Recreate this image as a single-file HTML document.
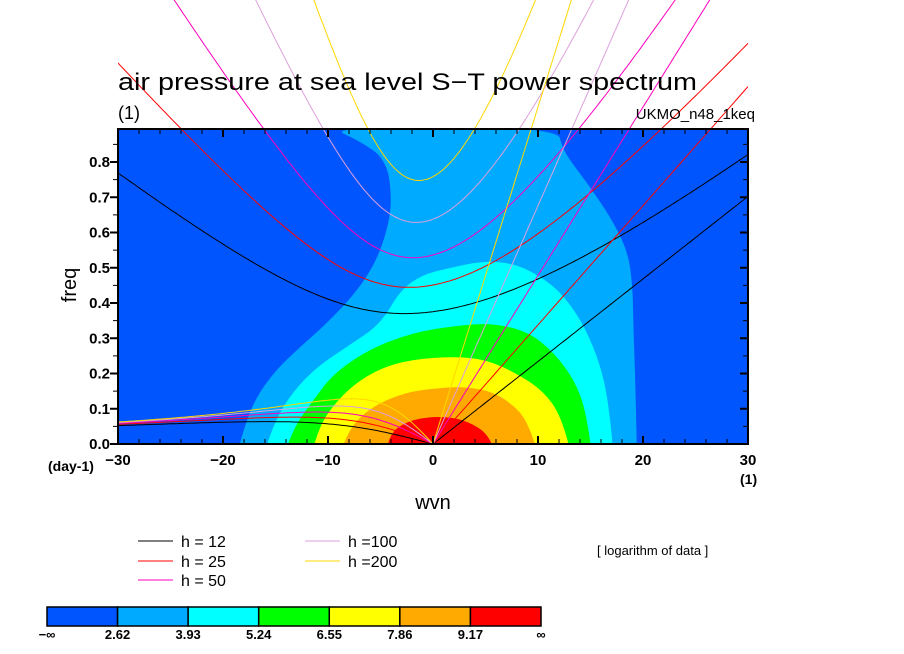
<!DOCTYPE html>
<html><head><meta charset="utf-8"><style>
html,body{margin:0;padding:0;background:#fff;}
svg{display:block;font-family:"Liberation Sans",sans-serif;}
</style></head><body>
<svg id="chart" width="904" height="654" viewBox="0 0 904 654">
<defs><clipPath id="pc"><rect x="118" y="0" width="630" height="444"/></clipPath>
<clipPath id="pa"><rect x="118" y="129" width="630" height="315"/></clipPath></defs>
<rect x="118" y="129" width="630" height="315" fill="#0055ff"/>
<g id="contours" clip-path="url(#pa)"></g>
<g id="curves" clip-path="url(#pc)"></g>
<g id="axes"></g>
<text x="118" y="90" font-size="24" textLength="579" lengthAdjust="spacingAndGlyphs">air pressure at sea level S−T power spectrum</text>
<text x="118" y="119" font-size="18">(1)</text>
<text x="755" y="119" font-size="15" text-anchor="end">UKMO_n48_1keq</text>
<text x="76" y="285" font-size="20" text-anchor="middle" transform="rotate(-90 76 285)">freq</text>
<text x="433" y="509" font-size="20" text-anchor="middle">wvn</text>
<text x="48" y="471" font-size="14" font-weight="bold">(day-1)</text>
<text x="740" y="484" font-size="14" font-weight="bold">(1)</text>
<text x="597" y="555" font-size="13">[ logarithm of data ]</text>
<g id="legend"></g>
<g id="colorbar"></g>
</svg>
<script>
const levels=["−∞","2.62","3.93","5.24","6.55","7.86","9.17","∞"];
const fillColors=["#0055ff","#00aaff","#00ffff","#00ff00","#ffff00","#ffaa00","#ff0000"];
const depths=[12,25,50,100,200];
const depthColors=["#000000","#ff0000","#ff00c0","#dda0dd","#ffd700"];
const xTicks=[-30,-20,-10,0,10,20,30];
const yTicks=[0,0.1,0.2,0.3,0.4,0.5,0.6,0.7,0.8];
const cLightBlue=[[-18.4,0],[-17.5,0.1],[-15.3,0.2],[-12.5,0.28],[-10.8,0.323],[-7.9,0.41],[-5.7,0.5],[-4.4,0.6],[-3.9,0.69],[-4.4,0.806],[-7,0.86],[-10,0.9],[11.9,0.9],[12.3,0.834],[14.7,0.74],[16.9,0.644],[18.5,0.55],[19,0.457],[19.1,0.32],[19.3,0.15],[19.4,0]];
const cCyan=[[-15.8,0],[-15,0.07],[-13.3,0.15],[-11,0.22],[-8,0.28],[-5,0.34],[-3.1,0.437],[-1,0.48],[1.6,0.5],[5,0.52],[8,0.51],[10.5,0.47],[12.5,0.42],[14.5,0.33],[16,0.22],[16.8,0.1],[17.1,0]];
const cGreen=[[-13.8,0],[-13.2,0.05],[-11.5,0.12],[-9.5,0.2],[-6,0.27],[-2,0.315],[2,0.335],[5.5,0.343],[9,0.32],[11.5,0.26],[13.5,0.18],[14.6,0.09],[15,0]];
const cYellow=[[-11.3,0],[-10.8,0.05],[-9.5,0.11],[-7.5,0.17],[-5,0.215],[-2,0.24],[2,0.248],[5,0.24],[8,0.2],[10.5,0.15],[12.2,0.08],[12.9,0]];
const cOrange=[[-8.5,0],[-8,0.04],[-6.5,0.09],[-4.5,0.125],[-2,0.15],[1,0.16],[3,0.162],[5.5,0.15],[7.5,0.115],[9,0.065],[9.7,0]];
const cRed=[[-4.3,0],[-4,0.03],[-3,0.055],[-1.5,0.072],[0.5,0.078],[2.5,0.072],[4.2,0.05],[5.2,0.025],[5.6,0]];
const contourSets=[cLightBlue,cCyan,cGreen,cYellow,cOrange,cRed];

const NS="http://www.w3.org/2000/svg";
const X=k=>433+10.5*k, Y=f=>444-352.5*f;
function mk(tag,attrs,parent){const e=document.createElementNS(NS,tag);for(const a in attrs)e.setAttribute(a,attrs[a]);parent.appendChild(e);return e;}

const cg=document.getElementById('contours');
contourSets.forEach((pts,i)=>{
  const P=pts.map(p=>[X(p[0]),Y(p[1])]);
  let d='M'+P[0][0].toFixed(1)+' '+(P[0][1]+2).toFixed(1)+' L'+P[0][0].toFixed(1)+' '+P[0][1].toFixed(1);
  for(let j=1;j<P.length-1;j++){
    const mx=(P[j][0]+P[j+1][0])/2,my=(P[j][1]+P[j+1][1])/2;
    d+=' Q'+P[j][0].toFixed(1)+' '+P[j][1].toFixed(1)+' '+(j===P.length-2?P[j+1][0]:mx).toFixed(1)+' '+(j===P.length-2?P[j+1][1]:my).toFixed(1);
  }
  d+=' L'+P[P.length-1][0].toFixed(1)+' '+(P[P.length-1][1]+2).toFixed(1)+' Z';
  const p=mk('path',{d:d,fill:fillColors[i+1]},cg);
  
  
});

const a=6.371e6,beta=2*7.292e-5/a;
function newton(k,w){for(let i=0;i<60;i++){const f=w*w*w-(k*k+3)*w-k,fp=3*w*w-(k*k+3);w-=f/fp;}return w;}
const gcv=document.getElementById('curves');
depths.forEach((h,i)=>{
  const c=Math.sqrt(9.81*h),L=Math.sqrt(c/beta),T=Math.sqrt(beta*c)*86400/(2*Math.PI);
  const kel=[],ig=[],ros=[];
  for(let s=-30;s<=30.001;s+=0.25){
    const k=s/a*L;
    ig.push([s,newton(k,Math.sqrt(k*k+3)+0.5)*T]);
    if(s<=0) ros.push([s,Math.max(0,newton(k,-k/(k*k+3)))*T]);
    if(s>=0) kel.push([s,k*T]);
  }
  [['kelvin',kel],['ig',ig],['rossby',ros]].forEach(([nm,arr])=>{
    const d=arr.map((p,j)=>(j?'L':'M')+X(p[0]).toFixed(1)+' '+Math.max(-50,Y(p[1])).toFixed(1)).join(' ');
    const p=mk('path',{d:d,fill:'none',stroke:depthColors[i],'stroke-width':1},gcv);
    
    
  });
});

const ax=document.getElementById('axes');
const fr=mk('rect',{x:118,y:129,width:630,height:315,fill:'none',stroke:'#000','stroke-width':2},ax);


for(let s=-30;s<=30;s+=2){const maj=s%10===0;const l=maj?8:5;
  mk('line',{x1:X(s),x2:X(s),y1:444,y2:444-l,stroke:'#000','stroke-width':maj?2:1},ax);
  mk('line',{x1:X(s),x2:X(s),y1:129,y2:129+l,stroke:'#000','stroke-width':maj?2:1},ax);}
for(let f=0;f<=0.89;f+=0.05){const maj=Math.round(f*20)%2===0;const l=maj?8:5;
  mk('line',{x1:118,x2:118-l,y1:Y(f),y2:Y(f),stroke:'#000','stroke-width':maj?2:1},ax);
  mk('line',{x1:748,x2:748-l,y1:Y(f),y2:Y(f),stroke:'#000','stroke-width':maj?2:1},ax);}
xTicks.forEach(v=>{const t=mk('text',{x:X(v),y:465,'font-size':15,'font-weight':'bold','text-anchor':'middle'},ax);t.textContent=v<0?'−'+(-v):v;
  
  });
yTicks.forEach(v=>{const t=mk('text',{x:110,y:Y(v)+5,'font-size':15,'font-weight':'bold','text-anchor':'end'},ax);t.textContent=v.toFixed(1);
  
  });

const lg=document.getElementById('legend');
const lpos=[[138,541],[138,561],[138,580],[305,541],[305,561]];
const ltext=["h = 12","h = 25","h = 50","h =100","h =200"];
depths.forEach((h,i)=>{const [x,y]=lpos[i];
  const ln=mk('line',{x1:x,x2:x+35,y1:y,y2:y,stroke:depthColors[i],'stroke-width':1},lg);
  
  
  const t=mk('text',{x:x+43,y:y+6,'font-size':16},lg);t.textContent=ltext[i];
  
  });

const cb=document.getElementById('colorbar');
const w=(541-47)/7;
fillColors.forEach((c,i)=>{const r=mk('rect',{x:47+i*w,y:607,width:w,height:19,fill:c,stroke:'#000','stroke-width':1.5},cb);
  
  });
levels.forEach((v,i)=>{const t=mk('text',{x:47+i*w,y:639,'font-size':13,'font-weight':'bold','text-anchor':'middle'},cb);t.textContent=v;
  
  });
</script>
</body></html>
